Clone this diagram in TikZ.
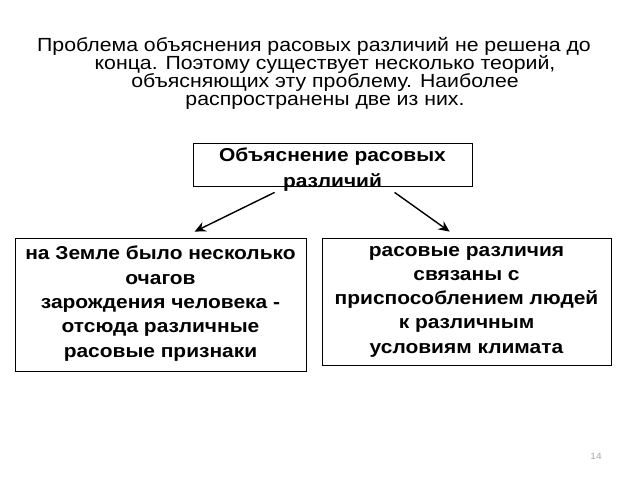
\documentclass[tikz,border=0pt]{standalone}
\usepackage{fontspec}
\setmainfont{Liberation Sans}[FakeStretch=1.12]
\usetikzlibrary{arrows.meta,calc}
\newcommand{\headfont}{\fontsize{19}{18}\selectfont\lineskiplimit=-30pt\relax}
\tikzset{
  box/.style={draw, thick, inner sep=0pt},
  boxtext/.style={font=\fontsize{18.7}{24.3}\selectfont\bfseries, align=center},
  arrow/.style={-{Stealth[length=11pt,width=10pt]}, line width=1.4pt}
}
\begin{document}
\begin{tikzpicture}[x=1pt,y=-1pt]
    \useasboundingbox (0,0) rectangle (640,480);

    % Heading text
    \node[font=\headfont, align=center] (head) at (325,73)
      {\hspace*{-22pt}Проблема объяснения расовых различий не решена до\\
       конца. Поэтому существует несколько теорий,\\
       объясняющих эту проблему. Наиболее\\
       распространены две из них.};

    % Top box
    \node[box, minimum width=279, minimum height=43] (expl) at (332.5,164.5) {};
    \node[boxtext, font=\fontsize{18.7}{26}\selectfont\bfseries] (expltext) at (332.5,170)
      {Объяснение расовых\\различий};

    % Left box
    \node[box, minimum width=291, minimum height=133] (left) at (160.5,304.5) {};
    \node[boxtext] (lefttext) at ($(left.center)+(0,-1)$)
      {на Земле было несколько\\очагов\\зарождения человека -\\отсюда различные\\расовые признаки};

    % Right box
    \node[box, minimum width=289, minimum height=127] (right) at (466.5,301.5) {};
    \node[boxtext] (righttext) at ($(right.center)+(0,0)$)
      {расовые различия\\связаны с\\приспособлением людей\\к различным\\условиям климата};

    % Arrows
    \draw[arrow] ($(expl.south west)+(82,6)$) -- ($(left.north west)+(180,-6)$);
    \draw[arrow] ($(expl.south west)+(202,6)$) -- ($(right.north west)+(128,-6)$);

    % Page number
    \node[font=\fontsize{9}{10}\selectfont, text=gray!70] (page) at (596,456) {14};
\end{tikzpicture}
\end{document}
